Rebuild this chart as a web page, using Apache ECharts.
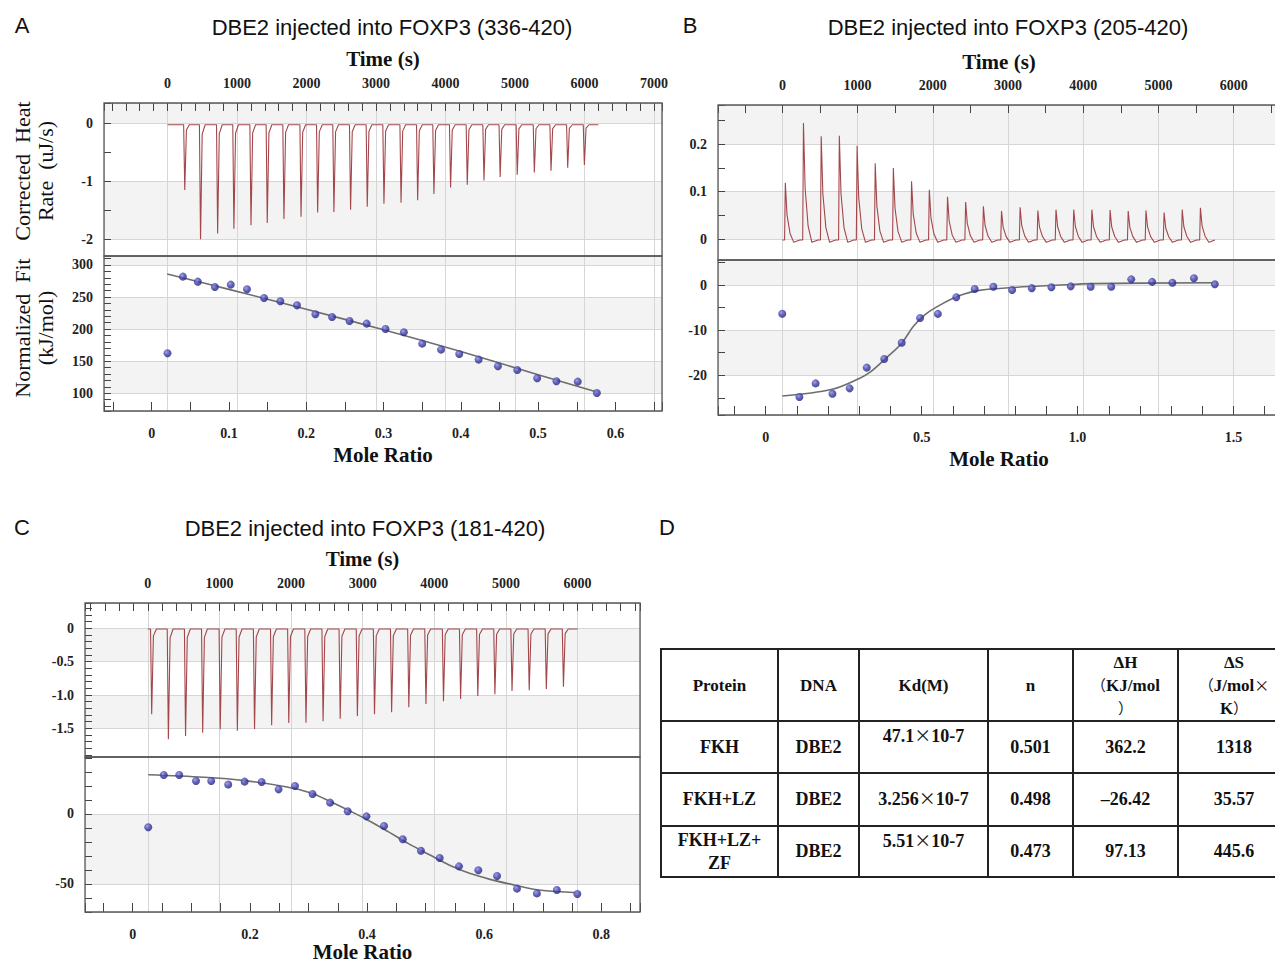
<!DOCTYPE html>
<html><head><meta charset="utf-8">
<script src="https://cdn.jsdelivr.net/npm/echarts@6/dist/echarts.min.js"></script>
<style>
html,body{margin:0;padding:0;background:#fff;overflow:hidden;width:1275px;height:963px;}
#chart{position:absolute;left:0;top:0;width:1300px;height:980px;}
#tbl{position:absolute;left:660px;top:648px;border-collapse:collapse;table-layout:fixed;
 font-family:'Liberation Serif','Times New Roman',serif;font-weight:bold;font-size:18px;color:#111;}
#tbl td{border:2px solid #222;text-align:center;vertical-align:middle;padding:0;line-height:23px;white-space:nowrap;}
#tbl tr.hdr td{line-height:23px;font-size:17px;}
#tbl td.top{vertical-align:top;padding-top:3px;}
.cjk{font-family:'Noto Sans CJK SC',sans-serif;font-weight:normal;font-size:17px;line-height:0;}
#tbl tr.hdr .cjk{font-size:15px;}
</style></head>
<body>
<div id="chart"></div>
<table id="tbl"></table>
<script>
// ---------- text ----------
const panelTitles = ['DBE2 injected into FOXP3 (336-420)', 'DBE2 injected into FOXP3 (205-420)', 'DBE2 injected into FOXP3 (181-420)'];
const panelLetters = ['A', 'B', 'C', 'D'];
const yTitlesA = ['Corrected  Heat\nRate  (uJ/s)', 'Normalized  Fit\n(kJ/mol)'];

// ---------- Panel A (336-420) ----------
const injTimeA = [234, 461, 707, 941, 1187, 1421, 1661, 1907, 2146, 2380, 2620, 2860, 3100, 3346, 3585, 3819, 4059, 4299, 4539, 4772, 5018, 5264, 5504, 5744, 5984];
const peakA = [-1.15, -2.00, -1.90, -1.82, -1.76, -1.72, -1.65, -1.61, -1.54, -1.53, -1.49, -1.44, -1.39, -1.37, -1.33, -1.22, -1.11, -1.06, -0.99, -0.93, -0.89, -0.85, -0.82, -0.77, -0.72];
const moleA = [0.0205, 0.0404, 0.0597, 0.0818, 0.1023, 0.1233, 0.1454, 0.1665, 0.188, 0.2118, 0.2334, 0.256, 0.2782, 0.3025, 0.3263, 0.35, 0.3744, 0.398, 0.423, 0.448, 0.473, 0.4988, 0.5237, 0.5513, 0.576];
const heatA = [162.3, 281.8, 274.0, 265.7, 269.4, 262.1, 248.6, 243.4, 237.1, 223.1, 219.0, 212.7, 208.6, 200.3, 195.1, 177.4, 168.1, 161.3, 152.5, 142.1, 136.4, 123.4, 118.7, 118.2, 100.5];
const fitMoleA = [0.02, 0.1, 0.2, 0.3, 0.4, 0.5, 0.576];
const fitHeatA = [286, 262, 231, 199, 165, 129, 102];

// ---------- Panel B (205-420) ----------
const injTimeB = [31, 272, 508, 749, 985, 1226, 1467, 1709, 1945, 2187, 2428, 2664, 2905, 3152, 3388, 3629, 3865, 4106, 4348, 4589, 4825, 5066, 5307, 5549];
const peakB = [0.119, 0.245, 0.217, 0.218, 0.197, 0.160, 0.150, 0.122, 0.104, 0.089, 0.078, 0.069, 0.059, 0.067, 0.060, 0.062, 0.062, 0.062, 0.061, 0.059, 0.060, 0.056, 0.062, 0.066];
const moleB = [0.053, 0.108, 0.160, 0.214, 0.269, 0.324, 0.380, 0.436, 0.495, 0.552, 0.611, 0.670, 0.730, 0.790, 0.853, 0.916, 0.978, 1.042, 1.108, 1.172, 1.239, 1.304, 1.373, 1.440];
const heatB = [-6.35, -24.8, -21.8, -24.1, -22.9, -18.3, -16.4, -12.8, -7.3, -6.4, -2.7, -0.9, -0.4, -1.1, -0.7, -0.5, -0.3, -0.4, -0.4, 1.25, 0.7, 0.5, 1.5, 0.15];
const fitMoleB = [0.053, 0.213, 0.3, 0.337, 0.386, 0.436, 0.473, 0.51, 0.56, 0.62, 0.68, 0.807, 0.93, 1.05, 1.44];
const fitHeatB = [-24.6, -23.1, -20.7, -19.2, -16.2, -12.9, -9.2, -6.6, -4.4, -2.4, -1.25, -0.5, -0.07, 0.3, 0.5];

// ---------- Panel C (181-420) ----------
const injTimeC = [40, 273, 513, 752, 997, 1236, 1476, 1715, 1954, 2194, 2433, 2672, 2912, 3151, 3390, 3630, 3869, 4114, 4353, 4593, 4832, 5071, 5311, 5550, 5789];
const peakC = [-1.29, -1.665, -1.615, -1.565, -1.515, -1.535, -1.51, -1.455, -1.42, -1.415, -1.395, -1.355, -1.315, -1.29, -1.26, -1.185, -1.135, -1.095, -1.06, -1.015, -0.99, -0.94, -0.93, -0.91, -0.875];
const moleC = [0.0265, 0.053, 0.0794, 0.108, 0.134, 0.163, 0.191, 0.22, 0.249, 0.277, 0.307, 0.337, 0.367, 0.399, 0.429, 0.461, 0.492, 0.524, 0.557, 0.590, 0.622, 0.656, 0.690, 0.724, 0.759];
const heatC = [-9.5, 27.9, 27.9, 23.6, 23.6, 21.0, 23.1, 22.9, 17.6, 20.0, 14.3, 8.1, 1.9, -1.7, -8.6, -18.1, -26.2, -31.4, -37.4, -40.2, -44.3, -53.3, -56.7, -54.3, -57.1];
const fitMoleC = [0.0265, 0.122, 0.192, 0.261, 0.303, 0.338, 0.373, 0.401, 0.436, 0.47, 0.505, 0.54, 0.575, 0.61, 0.651, 0.693, 0.759];
const fitHeatC = [28, 26.2, 23.8, 19.5, 15.2, 8.8, 1.7, -4.3, -12.6, -21, -28.8, -36.4, -42.4, -46.7, -50.7, -54.3, -56.2];

// ---------- Panel D table ----------
const tableHeader = ['Protein', 'DNA', 'Kd(M)', 'n', 'ΔH\n（KJ/mol\n）', 'ΔS\n（J/mol×\nK）'];
const tableRows = [
  ['FKH', 'DBE2', '47.1×10-7', '0.501', '362.2', '1318'],
  ['FKH+LZ', 'DBE2', '3.256×10-7', '0.498', '–26.42', '35.57'],
  ['FKH+LZ+\nZF', 'DBE2', '5.51×10-7', '0.473', '97.13', '445.6']
];

// ---------- build table ----------
(function () {
  const colW = [117, 81, 129, 85, 105, 112];
  const rowH = [72, 52, 53, 51];
  const esc = s => s.replace(/&/g, '&amp;').replace(/</g, '&lt;');
  const cell = s => esc(s).replace(/([×（）])/g, '<span class="cjk">$1</span>').replace(/\n/g, '<br>');
  let h = '<colgroup>' + colW.map(w => `<col style="width:${w}px">`).join('') + '</colgroup>';
  h += `<tr class="hdr" style="height:${rowH[0]}px">` + tableHeader.map(s => `<td>${cell(s)}</td>`).join('') + '</tr>';
  tableRows.forEach((r, i) => {
    h += `<tr style="height:${rowH[i + 1]}px">` + r.map((s, j) => `<td class="${j === 2 && i !== 1 ? 'top' : ''}">${cell(s)}</td>`).join('') + '</tr>';
  });
  const t = document.getElementById('tbl');
  t.innerHTML = h;
  t.style.width = colW.reduce((a, b) => a + b, 0) + 'px';
})();

// ---------- trace builders (spike shapes from read peak values) ----------
function negTrace(times, peaks, start, end, base) {
  const d = [[start, base]];
  times.forEach((t, i) => {
    d.push([t - 2, base], [t + 14, peaks[i]], [t + 38, base + 0.08 * peaks[i]], [t + 80, base]);
  });
  d.push([end, base]);
  return d;
}
function posTrace(times, peaks, start, end, base) {
  const d = [[start, base]];
  times.forEach((t, i) => {
    d.push([t - 2, base], [t + 8, peaks[i]], [t + 30, base + 0.45 * peaks[i]], [t + 70, base + 0.12 * peaks[i]], [t + 120, base - 0.005], [t + 200, base]);
  });
  d.push([end, base]);
  return d;
}
const zip = (a, b) => a.map((v, i) => [v, b[i]]);

// ---------- styling ----------
const SERIF = "'Liberation Serif','Times New Roman',serif";
const SANS = "'Liberation Sans',Arial,sans-serif";
const lbl = { fontFamily: SERIF, fontWeight: 'bold', fontSize: 14, color: '#222' };
const nameBold = { fontFamily: SERIF, fontWeight: 'bold', fontSize: 21, color: '#111' };
const gridLine = { show: true, lineStyle: { color: '#d6d6d6', width: 1 } };
const tickCol = '#444';

function onStep(step, dec) {
  return v => {
    const k = v / step;
    if (Math.abs(k - Math.round(k)) > 1e-6) return '';
    const r = Math.round(k) * step;
    return Math.abs(r) < 1e-9 ? '0' : r.toFixed(dec);
  };
}
function timeAxis(grid, min, max, minorN, visible, gap) {
  return {
    type: 'value', gridIndex: grid, position: 'top', min, max, minInterval: 1000, maxInterval: 1000, splitNumber: 8,
    name: visible ? 'Time (s)' : '', nameLocation: 'middle', nameGap: gap || 34, nameTextStyle: nameBold,
    axisLine: { show: false, onZero: false },
    axisTick: { show: visible, inside: true, length: 8, lineStyle: { color: tickCol } },
    minorTick: { show: visible, splitNumber: minorN, length: 8, lineStyle: { color: tickCol } },
    axisLabel: Object.assign({ show: visible, margin: 13, formatter: onStep(1000, 0) }, lbl),
    splitLine: gridLine
  };
}
function moleAxis(grid, min, max, step, minorN, gap) {
  return {
    type: 'value', gridIndex: grid, position: 'bottom', min, max, minInterval: step, maxInterval: step, splitNumber: 8,
    name: 'Mole Ratio', nameLocation: 'middle', nameGap: gap, nameTextStyle: nameBold,
    axisLine: { show: false, onZero: false },
    axisTick: { show: true, inside: true, length: 9, lineStyle: { color: tickCol } },
    minorTick: { show: true, splitNumber: minorN, length: 9, lineStyle: { color: tickCol } },
    axisLabel: Object.assign({ margin: 15, formatter: onStep(step, 1) }, lbl),
    splitLine: { show: false }
  };
}
function yAxis(grid, min, max, step, dec, minorN) {
  return {
    type: 'value', gridIndex: grid, position: 'left', min, max, minInterval: step, maxInterval: step, splitNumber: 6,
    axisLine: { show: false, onZero: false },
    axisTick: { show: true, inside: true, length: 7, lineStyle: { color: tickCol } },
    minorTick: { show: true, splitNumber: minorN, length: 7, lineStyle: { color: tickCol } },
    axisLabel: Object.assign({ margin: 11, formatter: onStep(step, dec) }, lbl),
    splitLine: gridLine,
    splitArea: { show: true, areaStyle: { color: ['#ffffff', '#f3f3f3'] } }
  };
}
const gridBase = { show: true, borderColor: '#5a5a5a', borderWidth: 1.3, backgroundColor: 'transparent', containLabel: false, z: 5 };
const grids = [
  { left: 104, top: 103, width: 558, height: 153 },
  { left: 104, top: 256, width: 558, height: 155 },
  { left: 718, top: 105, width: 562, height: 155 },
  { left: 718, top: 260, width: 562, height: 155 },
  { left: 85, top: 603, width: 555, height: 154 },
  { left: 85, top: 757, width: 555, height: 155 }
].map(g => Object.assign({}, gridBase, g));

const xAxes = [
  timeAxis(0, -914, 7115, 5, true, 34),
  moleAxis(1, -0.0617, 0.6603, 0.1, 2, 33),
  timeAxis(1, -914, 7115, 5, false),
  timeAxis(2, -856, 6615, 2, true, 33),
  moleAxis(3, -0.153, 1.649, 0.5, 5, 33),
  timeAxis(3, -856, 6615, 2, false),
  timeAxis(4, -877, 6872, 5, true, 34),
  moleAxis(5, -0.0815, 0.866, 0.2, 4, 29),
  timeAxis(5, -877, 6872, 5, false)
];
const yAxes = [
  yAxis(0, -2.287, 0.344, 1, 0, 2),
  yAxis(1, 72.4, 314, 50, 0, 5),
  yAxis(2, -0.0443, 0.283, 0.1, 1, 2),
  yAxis(3, -28.8, 5.54, 10, 0, 2),
  yAxis(4, -1.93, 0.38, 0.5, 1, 5),
  yAxis(5, -70, 40.7, 50, 0, 5)
];

const traceColor = '#a3474b';
const dotColor = {
  type: 'radial', x: 0.38, y: 0.35, r: 0.7,
  colorStops: [{ offset: 0, color: '#8c8ce0' }, { offset: 0.5, color: '#3c3cab' }, { offset: 1, color: '#1f1f70' }]
};
function traceSeries(xi, yi, data) {
  return { type: 'line', xAxisIndex: xi, yAxisIndex: yi, data, showSymbol: false, symbol: 'none', smooth: false,
    lineStyle: { color: traceColor, width: 1.1 }, z: 3, animation: false };
}
function fitSeries(xi, yi, data) {
  return { type: 'line', xAxisIndex: xi, yAxisIndex: yi, data, showSymbol: false, symbol: 'none', smooth: 0.35,
    lineStyle: { color: '#6e6e6e', width: 1.6 }, z: 3, animation: false };
}
function dotSeries(xi, yi, data) {
  return { type: 'scatter', xAxisIndex: xi, yAxisIndex: yi, data, symbolSize: 8,
    itemStyle: { color: dotColor }, z: 4, animation: false };
}

const series = [
  traceSeries(0, 0, negTrace(injTimeA, peakA, 0, 6200, -0.03)),
  fitSeries(1, 1, zip(fitMoleA, fitHeatA)),
  dotSeries(1, 1, zip(moleA, heatA)),
  traceSeries(3, 2, posTrace(injTimeB, peakB, 0, 5744, -0.002)),
  fitSeries(4, 3, zip(fitMoleB, fitHeatB)),
  dotSeries(4, 3, zip(moleB, heatB)),
  traceSeries(6, 4, negTrace(injTimeC, peakC, 0, 6000, -0.01)),
  fitSeries(7, 5, zip(fitMoleC, fitHeatC)),
  dotSeries(7, 5, zip(moleC, heatC))
];

const txt = (x, y, text, size, font, extra) => ({ type: 'text', x, y, silent: true, ...(extra || {}),
  style: { text, fontSize: size, fontFamily: font, fill: '#111', align: 'center', verticalAlign: 'middle', lineHeight: 23 } });
const graphic = [
  txt(22, 25, panelLetters[0], 22, SANS),
  txt(690, 25, panelLetters[1], 22, SANS),
  txt(22, 527, panelLetters[2], 22, SANS),
  txt(667, 527, panelLetters[3], 22, SANS),
  txt(392, 27, panelTitles[0], 22, SANS),
  txt(1008, 27, panelTitles[1], 22, SANS),
  txt(365, 528, panelTitles[2], 22, SANS),
  txt(33.5, 171, yTitlesA[0], 22, SERIF, { rotation: Math.PI / 2 }),
  txt(33.5, 328, yTitlesA[1], 22, SERIF, { rotation: Math.PI / 2 })
];

const chart = echarts.init(document.getElementById('chart'), null, { renderer: 'svg' });
chart.setOption({
  animation: false,
  backgroundColor: '#ffffff',
  grid: grids,
  xAxis: xAxes,
  yAxis: yAxes,
  series,
  graphic
});
</script>
</body></html>
